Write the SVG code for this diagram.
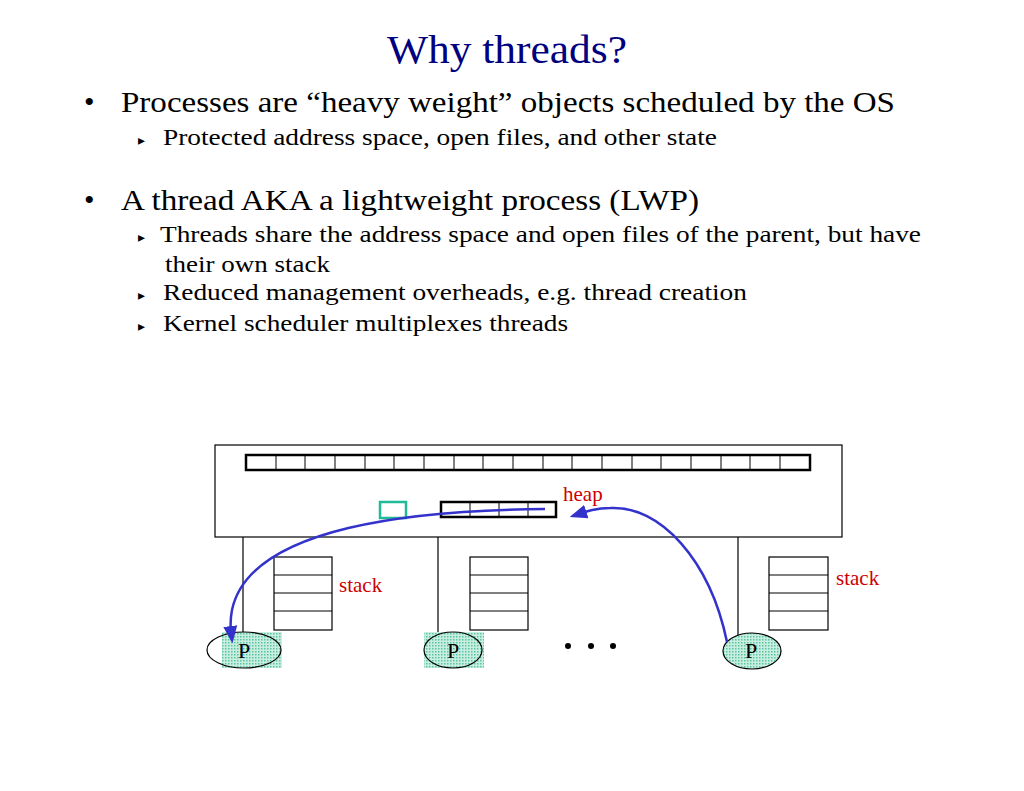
<svg xmlns="http://www.w3.org/2000/svg" width="1024" height="791" viewBox="0 0 1024 791">
<defs>
<pattern id="dots" width="3" height="3" patternUnits="userSpaceOnUse"><rect width="3" height="3" fill="#c8eee0"/><rect width="1.5" height="1.5" fill="#5cc4a4"/></pattern>
<marker id="ah" viewBox="0 0 10 10" refX="8" refY="5" markerWidth="7" markerHeight="7" orient="auto"><path d="M0,1 L10,5 L0,9 Z" fill="#3333cc"/></marker>
</defs>
<style>
text{font-family:"Liberation Serif",serif;}
.b{font-size:30px;fill:#000}
.s{font-size:23px;fill:#000}
.r{font-size:21px;fill:#cc0000}
.k{fill:none;stroke:#000;stroke-width:1.2}
.bar{fill:#fff;stroke:#000;stroke-width:2.5}
.arr{fill:none;stroke:#3333cc;stroke-width:2.5;marker-end:url(#ah)}
</style>
<rect width="1024" height="791" fill="#fff"/>
<text x="507" y="63" text-anchor="middle" style="font-size:40px;fill:#000080" textLength="240" lengthAdjust="spacingAndGlyphs">Why threads?</text>
<text x="84" y="112" class="b">•</text>
<text x="121" y="112" class="b" textLength="774" lengthAdjust="spacingAndGlyphs">Processes are “heavy weight” objects scheduled by the OS</text>
<text x="138" y="145" class="s" style="font-size:14px">▸</text>
<text x="163" y="145" class="s" textLength="554" lengthAdjust="spacingAndGlyphs">Protected address space, open files, and other  state</text>
<text x="84" y="210" class="b">•</text>
<text x="121" y="210" class="b" textLength="578" lengthAdjust="spacingAndGlyphs">A thread AKA a lightweight process (LWP)</text>
<text x="138" y="242" style="font-size:14px">▸</text>
<text x="160" y="242" class="s" textLength="761" lengthAdjust="spacingAndGlyphs">Threads share the address space and open files of the parent, but have</text>
<text x="165" y="272" class="s" textLength="165" lengthAdjust="spacingAndGlyphs">their own stack</text>
<text x="138" y="300" style="font-size:14px">▸</text>
<text x="163" y="300" class="s" textLength="584" lengthAdjust="spacingAndGlyphs">Reduced management  overheads, e.g. thread creation</text>
<text x="138" y="331" style="font-size:14px">▸</text>
<text x="163" y="331" class="s" textLength="405" lengthAdjust="spacingAndGlyphs">Kernel scheduler multiplexes  threads</text>

<g id="address-space">
<rect x="215" y="445" width="627" height="92" class="k"/>
<rect x="246" y="455" width="564" height="15" class="bar"/>
<path d="M276,455V470M305,455V470M335,455V470M365,455V470M394,455V470M424,455V470M454,455V470M483,455V470M513,455V470M543,455V470M572,455V470M602,455V470M632,455V470M661,455V470M691,455V470M721,455V470M750,455V470M780,455V470" stroke="#000" stroke-width="1"/>
<rect x="441" y="502" width="115" height="15" class="bar"/>
<path d="M470,502V517M499,502V517M528,502V517" stroke="#000" stroke-width="1"/>
<rect x="380" y="502" width="26" height="16" fill="none" stroke="#22bb99" stroke-width="2.5"/>
<text x="563" y="501" class="r">heap</text>
</g>
<g id="thread1">
<line x1="243" y1="537" x2="243" y2="650" class="k" stroke-width="1"/>
<rect x="274" y="557" width="58" height="73" class="k"/>
<path d="M274,575H332M274,593H332M274,611H332" class="k"/>
<text x="339" y="592" class="r">stack</text>
<rect x="222" y="632" width="60" height="36" fill="url(#dots)"/>
<ellipse cx="244" cy="650" rx="37" ry="18" class="k"/>
<text x="244" y="658" text-anchor="middle" style="font-size:22px">P</text>
</g>
<g id="thread2">
<line x1="438" y1="537" x2="438" y2="650" class="k" stroke-width="1"/>
<rect x="470" y="557" width="58" height="73" class="k"/>
<path d="M470,575H528M470,593H528M470,611H528" class="k"/>
<rect x="424" y="632" width="60" height="36" fill="url(#dots)"/>
<ellipse cx="453" cy="650" rx="29" ry="18" class="k"/>
<text x="453" y="658" text-anchor="middle" style="font-size:22px">P</text>
</g>
<g id="dots-more">
<circle cx="568" cy="646" r="3"/><circle cx="591" cy="646" r="3"/><circle cx="613" cy="646" r="3"/>
</g>
<g id="thread3">
<line x1="738" y1="537" x2="738" y2="650" class="k" stroke-width="1"/>
<rect x="769" y="557" width="59" height="73" class="k"/>
<path d="M769,575H828M769,593H828M769,611H828" class="k"/>
<text x="836" y="585" class="r">stack</text>
<ellipse cx="752" cy="651" rx="29" ry="18" fill="url(#dots)" stroke="#000" stroke-width="1.2"/>
<text x="751" y="658" text-anchor="middle" style="font-size:22px">P</text>
</g>
<g id="connectors">
<path d="M545,509 C420,510 250,525 232,610 C229,625 231,632 232,640" class="arr"/>
<path d="M727,642 C710,560 660,505 610,508 C595,508 585,512 573,516" class="arr"/>
</g>
</svg>
